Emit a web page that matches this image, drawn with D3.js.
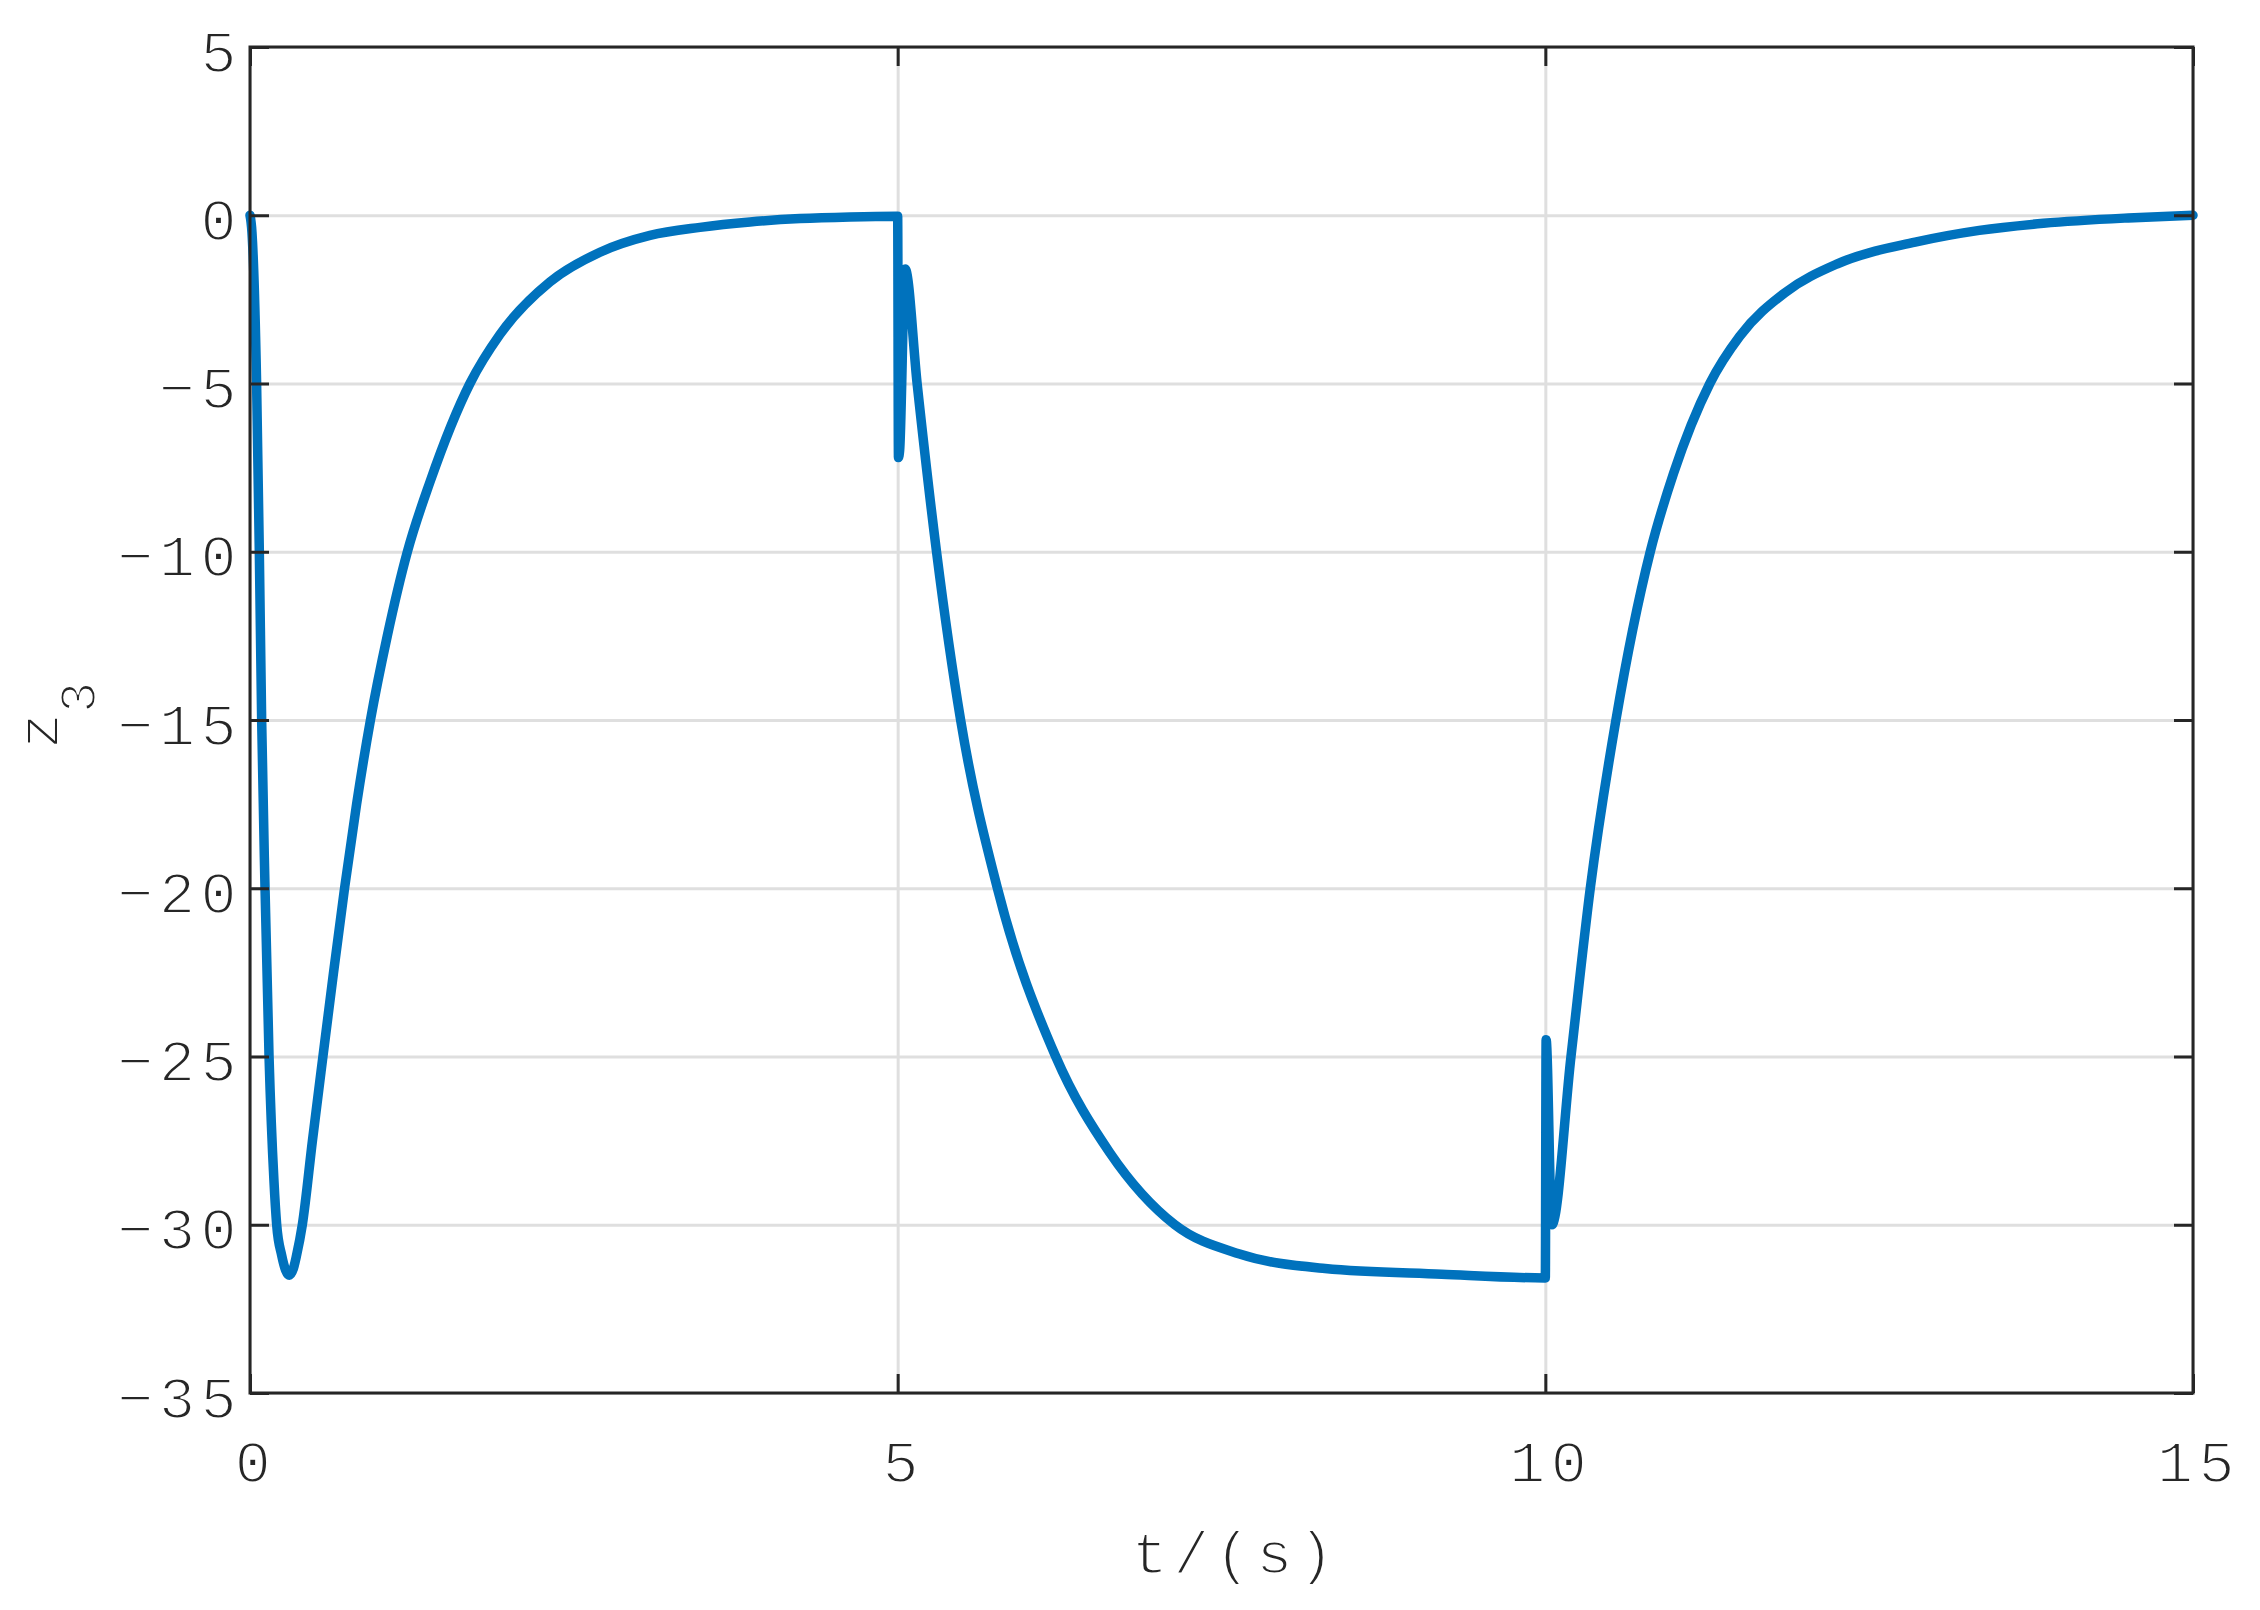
<!DOCTYPE html>
<html>
<head>
<meta charset="utf-8">
<script src="https://cdn.jsdelivr.net/npm/d3@7"></script>
<style>
  html, body { margin: 0; padding: 0; background: #fff; }
  svg { display: block; }
  /* thin the mono glyphs a little with a white outline, the reference font is light */
  .tick-label, .axis-label {
    font-family: "Liberation Mono", "DejaVu Sans Mono", monospace;
    fill: #262626;
    stroke: #fff;
    stroke-width: 2px;
    paint-order: fill;
  }
</style>
</head>
<body>
<div id="chart"></div>
<script>
// ---------- Data ----------
const tValues = [
  0, 0.015, 0.051, 0.072, 0.09, 0.116, 0.147, 0.185, 0.206, 0.244, 0.275, 0.304, 0.335, 0.36,
  0.404, 0.482, 0.563, 0.645, 0.73, 0.823, 0.93, 1.06, 1.215, 1.39, 1.698, 1.93, 2.316,
  2.702, 3.088, 3.474, 3.86, 4.246, 4.632, 4.99,
  5.0, 5.006, 5.015, 5.058, 5.151, 5.3, 5.486, 5.77, 6.22, 6.64, 7.14, 7.64, 8.3,
  9.2, 9.995,
  10.0, 10.006, 10.05, 10.198, 10.347, 10.545, 10.81, 10.99, 11.27, 11.5, 11.85, 12.25,
  12.855, 13.35, 13.845, 14.5, 15
];

const z3Values = [
  0, -0.5, -5, -10, -15, -20, -25, -28.7, -30, -30.9, -31.35, -31.5, -31.3, -30.9,
  -30, -27.5, -25, -22.5, -20, -17.5, -15, -12.5, -10, -7.92, -5, -3.54, -1.98,
  -1.1, -0.6, -0.36, -0.2, -0.1, -0.05, -0.03,
  -0.03, -7.2, -7.0, -1.6, -5.03, -10, -15, -20, -25, -27.87, -30, -30.87, -31.3,
  -31.47, -31.58,
  -31.58, -24.5, -30, -25, -20, -15, -10, -7.67, -5, -3.6, -2.3, -1.45,
  -0.8, -0.45, -0.24, -0.08, 0
];

const xTicks = [0, 5, 10, 15];
const yTicks = [-35, -30, -25, -20, -15, -10, -5, 0, 5];

// ---------- Layout ----------
const width = 2260;
const height = 1610;
const margin = { top: 47, right: 67, bottom: 217, left: 250 };
const innerWidth = width - margin.left - margin.right;
const innerHeight = height - margin.top - margin.bottom;

const AXIS_COLOR = "#262626";
const GRID_COLOR = "#dfdfdf";
const LINE_COLOR = "#0072bd";
const FONT_SIZE = 60;
const LETTER_SPACING = 5.5;

const svg = d3.select("#chart").append("svg")
  .attr("width", width)
  .attr("height", height);

svg.append("rect")
  .attr("width", width)
  .attr("height", height)
  .attr("fill", "#fff");

const g = svg.append("g")
  .attr("transform", `translate(${margin.left},${margin.top})`);

// ---------- Scales ----------
const xScale = d3.scaleLinear().domain([0, 15]).range([0, innerWidth]);
const yScale = d3.scaleLinear().domain([-35, 5]).range([innerHeight, 0]);

// ---------- Grid ----------
const gridX = g.append("g")
  .attr("transform", `translate(0,${innerHeight})`)
  .call(d3.axisBottom(xScale).tickValues(xTicks).tickSize(-innerHeight).tickFormat(""));
const gridY = g.append("g")
  .call(d3.axisLeft(yScale).tickValues(yTicks).tickSize(-innerWidth).tickFormat(""));
[gridX, gridY].forEach(s => {
  s.select(".domain").remove();
  s.selectAll("text").remove();
  s.selectAll("line").attr("stroke", GRID_COLOR).attr("stroke-width", 3);
});

// ---------- Line ----------
const points = tValues.map((t, i) => [t, z3Values[i]]);

g.append("path")
  .datum(points)
  .attr("fill", "none")
  .attr("stroke", LINE_COLOR)
  .attr("stroke-width", 9.5)
  .attr("stroke-linejoin", "round")
  .attr("stroke-linecap", "round")
  .attr("d", d3.line()
    .x(d => xScale(d[0]))
    .y(d => yScale(d[1]))
    .curve(d3.curveMonotoneX));

// ---------- Axes (MATLAB style box, inward ticks) ----------
const fmt = d3.format("d");
const TICK_LEN = 19;

const xAxis = g.append("g")
  .attr("transform", `translate(0,${innerHeight})`)
  .call(d3.axisBottom(xScale).tickValues(xTicks).tickSizeInner(-TICK_LEN).tickSizeOuter(0)
    .tickPadding(46).tickFormat(fmt));

const yAxis = g.append("g")
  .call(d3.axisLeft(yScale).tickValues(yTicks).tickSizeInner(-TICK_LEN).tickSizeOuter(0)
    .tickPadding(8).tickFormat(fmt));

const xAxisTop = g.append("g")
  .call(d3.axisTop(xScale).tickValues(xTicks).tickSizeInner(-TICK_LEN).tickSizeOuter(0));

const yAxisRight = g.append("g")
  .attr("transform", `translate(${innerWidth},0)`)
  .call(d3.axisRight(yScale).tickValues(yTicks).tickSizeInner(-TICK_LEN).tickSizeOuter(0));

// the mirrored top/right axes carry only tick marks
xAxisTop.selectAll("text").remove();
yAxisRight.selectAll("text").remove();

[xAxis, yAxis, xAxisTop, yAxisRight].forEach(s => {
  s.select(".domain").remove();
  s.selectAll("line").attr("stroke", AXIS_COLOR).attr("stroke-width", 3);
  s.selectAll("text")
    .attr("class", "tick-label")
    .attr("fill", AXIS_COLOR)
    .style("font-size", FONT_SIZE + "px")
    .style("letter-spacing", LETTER_SPACING + "px");
});

xAxis.selectAll("text").attr("dx", 5);
yAxis.selectAll("text").attr("dy", "0.4em");

g.append("rect")
  .attr("width", innerWidth)
  .attr("height", innerHeight)
  .attr("fill", "none")
  .attr("stroke", AXIS_COLOR)
  .attr("stroke-width", 3);

// ---------- Axis labels ----------
svg.append("text")
  .attr("class", "axis-label")
  .attr("x", margin.left + innerWidth / 2 + 14)
  .attr("y", 1573)
  .attr("text-anchor", "middle")
  .style("font-size", FONT_SIZE + "px")
  .style("letter-spacing", LETTER_SPACING + "px")
  .text("t/(s)");

const yLabel = svg.append("text")
  .attr("class", "axis-label")
  .attr("transform", "translate(58,749) rotate(-90)")
  .style("font-size", FONT_SIZE + "px");
yLabel.append("tspan").text("z");
yLabel.append("tspan")
  .attr("dy", 37)
  .style("font-size", "52px")
  .text("3");
</script>
</body>
</html>
